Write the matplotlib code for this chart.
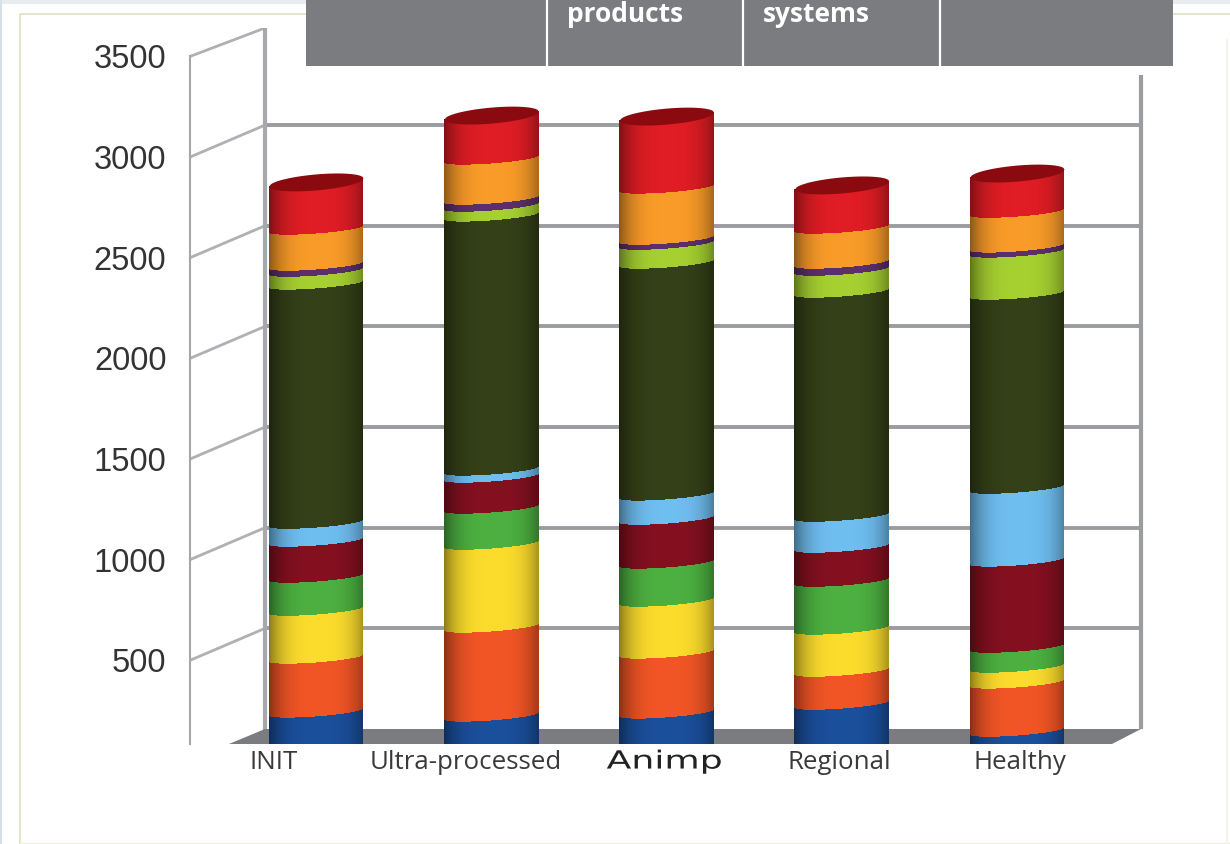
import numpy as np
import matplotlib
matplotlib.use("Agg")
import matplotlib.pyplot as plt
from matplotlib.collections import PolyCollection
from matplotlib.colors import to_rgb
from matplotlib.patches import Rectangle, Polygon
from matplotlib.patheffects import AbstractPathEffect
from matplotlib.transforms import Affine2D, ScaledTranslation

categories = ["INIT", "Ultra-processed", "Animp", "Regional", "Healthy"]
y_ticks = [500, 1000, 1500, 2000, 2500, 3000, 3500]

# stacked series, bottom to top
s_blue      = [224, 204, 219, 263, 129]
s_orangered = [268, 442, 298, 164, 239]
s_yellow    = [238, 412, 258, 209, 79]
s_green     = [164, 179, 189, 238, 99]
s_darkred   = [179, 154, 218, 169, 428]
s_lightblue = [89, 35, 120, 154, 362]
s_darkgreen = [1188, 1262, 1152, 1113, 964]
s_lime      = [64, 49, 94, 109, 209]
s_purple    = [30, 35, 25, 35, 25]
s_orange    = [179, 199, 254, 174, 173]
s_red       = [214, 198, 337, 194, 174]

series = [s_blue, s_orangered, s_yellow, s_green, s_darkred, s_lightblue,
          s_darkgreen, s_lime, s_purple, s_orange, s_red]
colors = ["#1a4f9c", "#f25525", "#fbdc2c", "#4cb040", "#84101f", "#6fbef0",
          "#344017", "#a6d030", "#5c2f6c", "#f99b28", "#e01c24"]
cap_color = "#8a0a10"

header_words = [("products", 567), ("systems", 763)]
header_dividers = [547, 743, 940]

W, H = 1230, 844
fig = plt.figure(figsize=(W / 100, H / 100), dpi=100, facecolor="white")

# page background layer, in pixels
bg = fig.add_axes([0, 0, 1, 1], zorder=0)
bg.set_xlim(0, W); bg.set_ylim(H, 0); bg.axis("off")
bg.add_patch(Rectangle((0, 0), W, 4, color="#e8ecee", lw=0))
bg.add_patch(Rectangle((0, 0), 2, H, color="#d3e0e6", lw=0))
bg.plot([20, 20, W], [H, 14, 14], color="#dde2c4", lw=1.2)
bg.plot([20, W], [H - 1, H - 1], color="#eef0dc", lw=1)
bg.plot([W - 3, W - 3], [40, H], color="#f4f5e6", lw=1.5)

# chart axes: pixel box 190..1145 by 28..744
PX_V = 0.2013          # pixels per unit of value
Y0 = 761               # pixel row of value 0 on the front plane
SP = 175.25            # pixels per category
X0 = 316               # pixel column of the first bar
ax = fig.add_axes([190 / W, (H - 744) / H, (1145 - 190) / W, (744 - 28) / H], zorder=1)
ax.patch.set_alpha(0)
ax.set_ylim((Y0 - 744) / PX_V, (Y0 - 28) / PX_V)
ax.set_xlim((190 - X0) / SP, (1145 - X0) / SP)
for k in ("top", "right", "bottom"):
    ax.spines[k].set_visible(False)
ax.spines["left"].set_color("#a4a6aa")
ax.spines["left"].set_linewidth(1.5)
ax.spines["left"].set_bounds((Y0 - 744) / PX_V, 3500)

depth_v = 32 / PX_V
back_l = (265 - X0) / SP
back_r = (1141 - X0) / SP
front_l = (190 - X0) / SP
vtop = (Y0 - 28) / PX_V

# walls and grid
for v in y_ticks:
    ax.plot([front_l, back_l], [v, min(v + depth_v, vtop)], color="#aeb0b3", lw=2, zorder=1)
    if v + depth_v < vtop:
        ax.plot([back_l, back_r], [v + depth_v] * 2, color="#9b9ca0", lw=2.8, zorder=1,
                solid_capstyle="butt")
floor_v = depth_v
ax.plot([back_l, back_l], [floor_v, vtop], color="#a6a8ac", lw=3, zorder=1)
ax.plot([back_r, back_r], [floor_v, (Y0 - 75) / PX_V], color="#9b9ca0", lw=3, zorder=1,
        solid_capstyle="butt")
bottom_v = (Y0 - 744) / PX_V
ax.add_patch(Polygon([((229 - X0) / SP, bottom_v), (back_l, floor_v), (back_r, floor_v),
                      ((1112 - X0) / SP, bottom_v)], closed=True, color="#7b7c80", lw=0, zorder=1))

# cylinders
half = 47 / SP
t = np.linspace(-1, 1, 95)
shade = 1.0 - 0.38 * np.abs(t - 0.05) ** 3.2
tilt_b, semi_b = 3.5 / PX_V, 4.5 / PX_V
tilt_c, semi_c = 4 / PX_V, 8 / PX_V


def band(v):
    return v + tilt_b * t + semi_b * (1 - np.sqrt(1 - t ** 2))


vals = np.array(series, dtype=float)
cums = np.cumsum(vals, axis=0)
for i in range(len(categories)):
    xs = i + half * t
    lower = np.zeros_like(t)
    top = cums[-1, i] + semi_c
    ell_lo = top + tilt_c * t - semi_c * np.sqrt(1 - t ** 2)
    ell_hi = top + tilt_c * t + semi_c * np.sqrt(1 - t ** 2)
    for j, col in enumerate(colors):
        upper = ell_lo if j == len(colors) - 1 else band(cums[j, i])
        polys, fcs = [], []
        base = np.array(to_rgb(col))
        for k in range(len(t) - 1):
            polys.append([(xs[k], lower[k]), (xs[k + 1], lower[k + 1]),
                          (xs[k + 1], upper[k + 1]), (xs[k], upper[k])])
            fcs.append(np.clip(base * 0.5 * (shade[k] + shade[k + 1]), 0, 1))
        ax.add_collection(PolyCollection(polys, facecolors=fcs, edgecolors="none",
                                         linewidths=0, antialiaseds=False, zorder=3 + j * 0.01))
        lower = upper
    ax.fill_between(xs, ell_lo, ell_hi, color=cap_color, lw=0, zorder=4)

# ticks and labels
ax.set_yticks(y_ticks)
ax.set_yticklabels([str(v) for v in y_ticks], family="Liberation Sans", fontsize=23.5, color="#333333")
ax.tick_params(axis="y", length=0, pad=17)
ax.set_xticks(range(len(categories)))
ax.set_xticklabels(categories, family="Open Sans", fontsize=18.6, color="#3a3a3a")
ax.tick_params(axis="x", length=0, pad=4)


class StretchX(AbstractPathEffect):
    def __init__(self, factor, cx):
        super().__init__()
        self.factor, self.cx = factor, cx

    def draw_path(self, renderer, gc, tpath, affine, rgbFace=None):
        aff = affine + Affine2D().translate(-self.cx, 0).scale(self.factor, 1).translate(self.cx, 0)
        renderer.draw_path(gc, tpath, aff, rgbFace)


label_shift = [-42, -25, -2, -2, 3]
for lab, dx in zip(ax.get_xticklabels(), label_shift):
    lab.set_transform(lab.get_transform() + ScaledTranslation(dx / 100, 0, fig.dpi_scale_trans))
animp = ax.get_xticklabels()[2]
animp.set_family("DejaVu Sans")
animp.set_fontsize(18)
animp.set_color("#222222")
animp.set_path_effects([StretchX(1.45, 664)])

# header layer, in pixels
top_layer = fig.add_axes([0, 0, 1, 1], zorder=2)
top_layer.set_xlim(0, W); top_layer.set_ylim(H, 0); top_layer.axis("off")
top_layer.add_patch(Rectangle((306, 0), 1173 - 306, 66, color="#7b7c80", lw=0))
top_layer.add_patch(Rectangle((306, 66), 1173 - 306, 8, color="white", lw=0))
for d in header_dividers:
    top_layer.plot([d, d], [0, 66], color="white", lw=1.6)
for word, x in header_words:
    top_layer.text(x, 22, word, family="Open Sans", weight="bold", fontsize=19, color="white",
                   ha="left", va="baseline")

fig.savefig("out.png", dpi=100)
